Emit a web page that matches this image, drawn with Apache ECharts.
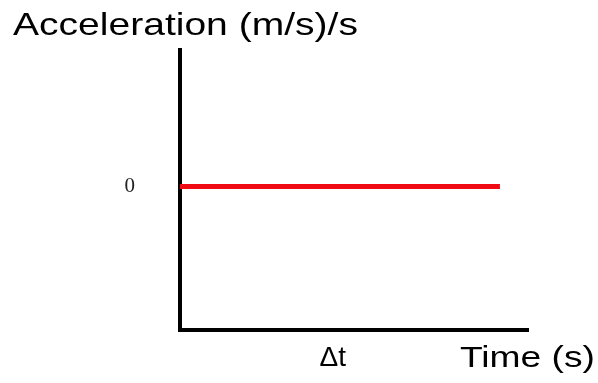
<!DOCTYPE html>
<html>
<head>
<meta charset="utf-8">
<script src="https://cdn.jsdelivr.net/npm/echarts@6/dist/echarts.min.js"></script>
<style>
  html, body { margin: 0; padding: 0; background: #fff; }
  #chart { width: 598px; height: 383px; }
</style>
</head>
<body>
<div id="chart"></div>
<script>
// 时间点 (s) 与加速度
const timeValues = [0, 9.22];
const accelValues = [0, 0];
// 坐标轴刻度标签
const xTickValues = [4.4];
const xTickLabels = ['Δt'];
const yTickValues = [0];
const yTickLabels = ['0'];

const chart = echarts.init(document.getElementById('chart'));

const option = {
  animation: false,
  backgroundColor: '#fff',
  grid: {
    left: 180,
    right: 71,
    top: 50,
    bottom: 53
  },
  xAxis: {
    type: 'value',
    min: 0,
    max: 10,
    splitLine: { show: false },
    axisTick: { show: false },
    axisLine: {
      show: true,
      onZero: false,
      lineStyle: { color: '#000', width: 4, cap: 'square' }
    },
    axisLabel: {
      customValues: xTickValues,
      formatter: function (v) {
        return xTickLabels[xTickValues.indexOf(v)];
      },
      margin: 14,
      color: '#000',
      fontFamily: 'Liberation Sans',
      fontSize: 28
    }
  },
  yAxis: {
    type: 'value',
    min: -1,
    max: 0.95,
    splitLine: { show: false },
    axisTick: { show: false },
    axisLine: {
      show: true,
      onZero: false,
      lineStyle: { color: '#000', width: 4, cap: 'square' }
    },
    axisLabel: {
      customValues: yTickValues,
      formatter: function (v) {
        return yTickLabels[yTickValues.indexOf(v)];
      },
      margin: 45,
      color: '#222',
      fontFamily: 'Liberation Serif',
      fontSize: 21
    }
  },
  series: [
    {
      type: 'line',
      data: timeValues.map((t, i) => [t, accelValues[i]]),
      symbol: 'none',
      lineStyle: { color: '#f00a14', width: 5 }
    }
  ],
  graphic: [
    {
      type: 'text',
      left: 13,
      top: 10,
      scaleX: 1.22,
      style: {
        text: 'Acceleration (m/s)/s',
        fill: '#000',
        font: '32px "Liberation Sans"'
      }
    },
    {
      type: 'text',
      left: 460,
      top: 344,
      scaleX: 1.24,
      style: {
        text: 'Time (s)',
        fill: '#000',
        font: '30px "Liberation Sans"'
      }
    }
  ]
};

chart.setOption(option);
</script>
</body>
</html>
